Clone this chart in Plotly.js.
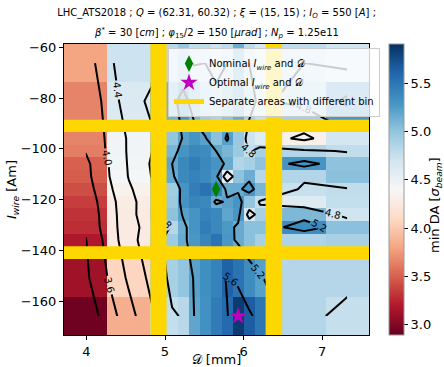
<!DOCTYPE html>
<html>
<head>
<meta charset="utf-8">
<script src="https://cdn.plot.ly/plotly-3.0.1.min.js"></script>
<style>html,body{margin:0;padding:0;background:#fff;}#chart{width:444px;height:367px;}</style>
</head>
<body>
<div id="chart"></div>
<script>
// Wire distance D [mm] (cell centres) and wire current I [A] (cell centres)
var wireD = [3.99, 4.54, 5.09, 5.23, 5.37, 5.51, 5.65, 5.79, 5.93, 6.07, 6.21, 6.77, 7.32];
var wireI = [-66.2, -81.2, -95.9, -100.9, -105.9, -110.9, -115.9, -120.9, -125.9, -130.9, -135.9, -150.9, -165.9];

// min DA [sigma] rows (one per wireI value), columns follow wireD
var da_m66  = [3.80, 4.72, 4.82, 4.98, 4.78, 4.80, 4.72, 4.80, 5.15, 4.80, 4.65, 4.80, 4.70];
var da_m81  = [3.65, 4.62, 5.12, 5.30, 5.08, 4.93, 4.87, 5.02, 5.16, 4.88, 4.75, 4.90, 5.28];
var da_m96  = [3.65, 4.45, 5.00, 5.22, 5.30, 5.22, 5.03, 5.23, 4.97, 4.72, 4.58, 4.32, 4.68];
var da_m101 = [3.62, 4.45, 5.10, 5.30, 5.38, 5.36, 5.20, 5.10, 4.96, 4.77, 4.90, 4.85, 4.78];
var da_m106 = [3.50, 4.44, 5.20, 5.38, 5.47, 5.38, 5.30, 5.16, 4.85, 4.90, 5.02, 5.30, 5.02];
var da_m111 = [3.48, 4.42, 5.16, 5.37, 5.42, 5.37, 5.27, 4.55, 5.02, 5.15, 4.83, 4.85, 5.03];
var da_m116 = [3.42, 4.35, 4.93, 5.30, 5.45, 5.53, 5.40, 5.16, 5.16, 5.28, 5.10, 4.75, 4.78];
var da_m121 = [3.35, 4.28, 4.96, 5.30, 5.40, 5.38, 5.16, 5.22, 5.30, 5.00, 4.77, 4.60, 4.77];
var da_m126 = [3.30, 4.27, 5.02, 5.22, 5.30, 5.42, 5.38, 5.20, 5.28, 4.68, 4.90, 5.08, 4.70];
var da_m131 = [3.28, 4.26, 4.83, 5.15, 5.30, 5.46, 5.38, 5.27, 5.16, 5.03, 5.03, 5.35, 5.03];
var da_m136 = [3.18, 4.26, 4.95, 5.16, 5.28, 5.40, 5.52, 5.28, 5.16, 5.03, 4.90, 4.86, 4.90];
var da_m151 = [3.12, 4.07, 4.90, 5.00, 5.22, 5.33, 5.42, 5.63, 5.52, 5.35, 5.23, 4.84, 4.84];
var da_m166 = [2.92, 3.85, 4.77, 4.82, 5.20, 5.32, 5.47, 5.58, 5.85, 5.65, 5.50, 4.84, 4.76];

// separations between areas with different binning (centre and width of each gap)
var binBoundD = [4.9175, 6.385];
var binGapD   = [0.205, 0.21];
var binBoundI = [-90.975, -140.925];
var binGapI   = [4.85, 5.05];

// nominal and optimal working points
var nominalD = [5.65], nominalI = [-115.9];
var optimalD = [5.93], optimalI = [-165.9];

var legendNames = ['Nominal <i>I<sub>wire</sub></i> and 𝒟', 'Optimal <i>I<sub>wire</sub></i> and 𝒟', 'Separate areas with different bin'];
var cbTicks = [3.0, 3.5, 4.0, 4.5, 5.0, 5.5];

var z = [da_m66, da_m81, da_m96, da_m101, da_m106, da_m111, da_m116, da_m121, da_m126, da_m131, da_m136, da_m151, da_m166];

var RdBu = [[0,'#67001f'],[0.1,'#b2182b'],[0.2,'#d6604d'],[0.3,'#f4a582'],[0.4,'#fddbc7'],[0.5,'#f7f7f7'],[0.6,'#d1e5f0'],[0.7,'#92c5de'],[0.8,'#4393c3'],[0.9,'#2166ac'],[1,'#053061']];

var xr = [3.715, 7.595], yr = [-173.35, -58.7];
var FONT = 'DejaVu Sans, sans-serif';
var GOLD = '#ffd700';

// horizontal separations drawn above everything (they interrupt the contour lines)
var shapes = [];
binBoundI.forEach(function(i, k){
  shapes.push({type:'rect', xref:'paper', yref:'y', y0:i-binGapI[k]/2, y1:i+binGapI[k]/2, x0:0, x1:1,
               fillcolor:GOLD, line:{width:0}, layer:'above'});
});
// vertical separations drawn as filled areas under the contour lines
var vTraces = binBoundD.map(function(d, k){
  var a = d - binGapD[k]/2, b = d + binGapD[k]/2;
  return {type:'scatter', mode:'lines', x:[a, b, b, a, a], y:[yr[0], yr[0], yr[1], yr[1], yr[0]],
          fill:'toself', fillcolor:GOLD, line:{width:0, color:GOLD}, showlegend:false, hoverinfo:'skip'};
});

var traces = [
  {type:'heatmap', x: wireD, y: wireI, z: z, colorscale: RdBu, zmin: 2.89, zmax: 5.91, zsmooth:false,
   showlegend:false, hoverinfo:'skip',
   colorbar: {thickness:15, len:1, lenmode:'fraction', x:1.0656, xanchor:'left', xpad:0, y:0.5, yanchor:'middle', ypad:0,
     outlinewidth:1, outlinecolor:'#999', ticks:'outside', ticklen:4, tickcolor:'#000',
     tickvals: cbTicks, ticktext: cbTicks.map(function(v){return v.toFixed(1);}),
     tickfont:{family:FONT, size:13, color:'#000'}, title:{text:''}}}
].concat(vTraces).concat([
  {type:'contour', x: wireD, y: wireI, z: z, autocontour:false, showscale:false, hoverinfo:'skip', showlegend:false,
   contours:{start:3.2, end:5.6, size:0.4, coloring:'none', showlabels:true, labelformat:'.1f',
     labelfont:{family:FONT, size:10, color:'#000'}},
   line:{color:'#000', width:2, smoothing:0}},
  {type:'scatter', mode:'markers', x: nominalD, y: nominalI, name: legendNames[0],
   marker:{symbol:'diamond-tall', color:'#008000', size:12, line:{width:0}}},
  {type:'scatter', mode:'markers', x: optimalD, y: optimalI, name: legendNames[1],
   marker:{symbol:'star', color:'#bf00bf', size:13, line:{width:0}}},
  {type:'scatter', mode:'lines', x:[null], y:[null], name: legendNames[2], line:{color:GOLD, width:5}}
]);

var layout = {
  width:444, height:367,
  margin:{l:64, r:75, t:44, b:32, pad:0, autoexpand:false},
  paper_bgcolor:'#fff', plot_bgcolor:'#fff',
  font:{family:FONT, size:13, color:'#000'},
  title:{text:'LHC_ATS2018 ; <i>Q</i> = (62.31, 60.32) ; <i>ξ</i> = (15, 15) ; <i>I<sub>O</sub></i> = 550 [<i>A</i>] ;',
         font:{family:FONT, size:10, color:'#000'}, x:0.4878, xanchor:'center', y:1-12/367, yanchor:'middle', yref:'container'},
  annotations:[
    {text:'<i>β</i><sup>*</sup> = 30 [<i>cm</i>] ; <i>φ</i><sub>15</sub>/2 = 150 [<i>μrad</i>] ; <i>N<sub>p</sub></i> = 1.25e11',
     xref:'paper', yref:'paper', x:0.5, y:(335-33)/291, xanchor:'center', yanchor:'middle', showarrow:false,
     font:{family:FONT, size:10, color:'#000'}},
    {text:'min DA [<i>σ<sub>beam</sub></i>]', textangle:-90, xref:'paper', yref:'paper',
     x:(435-64)/305, y:(335-205)/291, xanchor:'center', yanchor:'middle', showarrow:false,
     font:{family:FONT, size:13, color:'#000'}}
  ],
  shapes: shapes,
  xaxis:{range:xr, tickvals:[4,5,6,7], ticks:'outside', ticklen:4, tickcolor:'#000', showline:true, mirror:true,
    linecolor:'#000', linewidth:1, showgrid:false, zeroline:false, tickfont:{size:13},
    title:{text:'𝒟 [mm]', font:{size:13}, standoff:11}},
  yaxis:{range:yr, tick0:-160, dtick:20, ticks:'outside', ticklen:4, tickcolor:'#000', showline:true, mirror:true,
    linecolor:'#000', linewidth:1, showgrid:false, zeroline:false, tickfont:{size:13},
    title:{text:'<i>I<sub>wire</sub></i> [Am]', font:{size:13}, standoff:0}},
  legend:{x:0.341, y:0.986, xanchor:'left', yanchor:'top', bgcolor:'rgba(255,255,255,0.8)', bordercolor:'#ccc', borderwidth:1,
    font:{family:FONT, size:10, color:'#000'}, itemwidth:30, tracegroupgap:0},
  showlegend:true
};

Plotly.newPlot('chart', traces, layout, {staticPlot:true, displayModeBar:false});
</script>
</body>
</html>
